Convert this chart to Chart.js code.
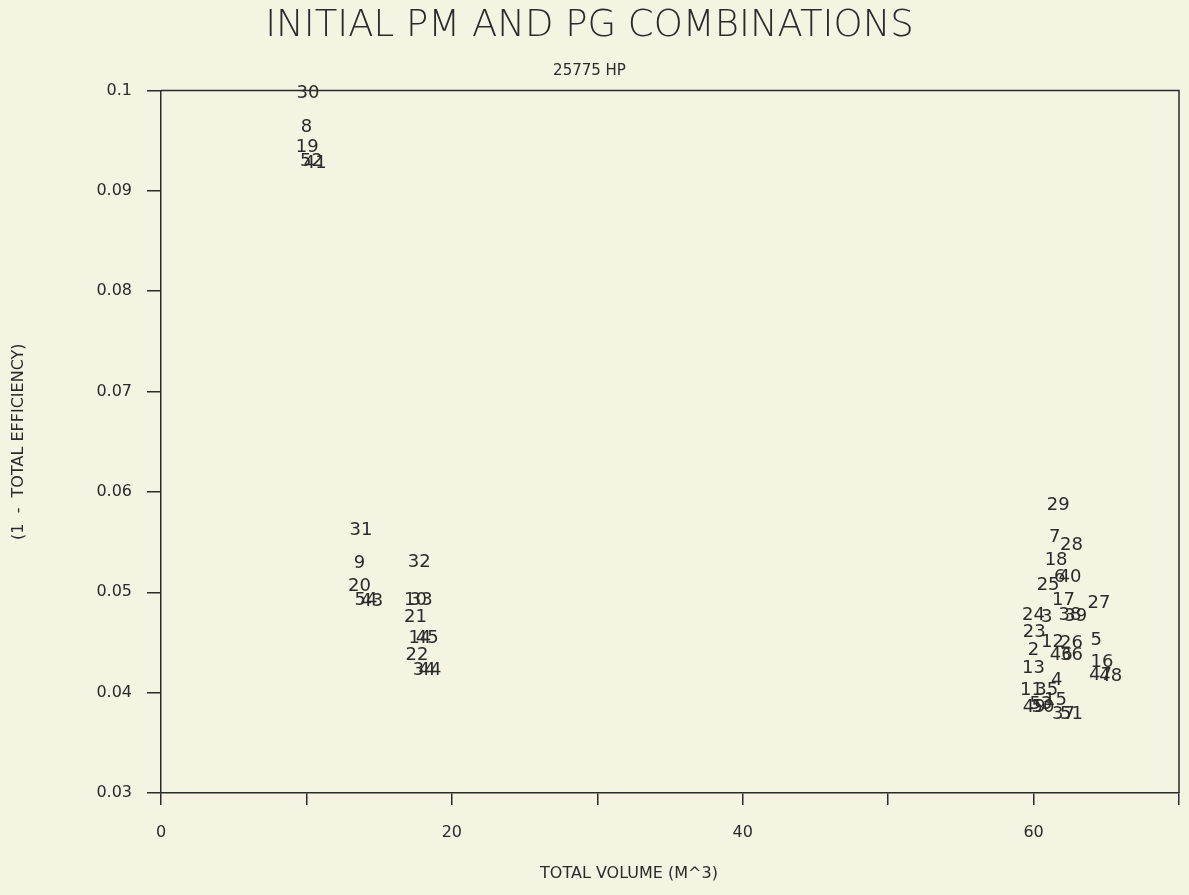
<!DOCTYPE html>
<html>
<head>
<meta charset="utf-8">
<title>Initial PM and PG combinations</title>
<script src="https://cdn.jsdelivr.net/npm/chart.js@4.4.1/dist/chart.umd.min.js"></script>
<style>
  html, body { margin: 0; padding: 0; background: #f5f3e1; overflow: hidden; }
  #chart { display: block; }
</style>
</head>
<body>
<canvas id="chart" width="1189" height="895"></canvas>
<script>
// each combination is plotted as its number
const POINT_LABELS = [
  '30', '8', '19', '52', '41',
  '31', '9', '20', '54', '43',
  '32', '10', '33', '21', '14', '45', '22', '34', '44',
  '29', '7', '28', '18', '6', '40', '25', '17', '27',
  '24', '3', '38', '39', '23', '12', '26', '5', '2',
  '46', '36', '16', '13', '47', '48', '4', '11', '35',
  '15', '49', '50', '53', '37', '51',
];
const VOLUME = [
  10.1, 10.0, 10.05, 10.35, 10.6,
  13.75, 13.65, 13.65, 14.1, 14.5,
  17.75, 17.5, 17.9, 17.5, 17.8, 18.3, 17.6, 18.1, 18.5,
  61.7, 61.45, 62.6, 61.55, 61.8, 62.5, 61.0, 62.05, 64.5,
  60.0, 60.9, 62.5, 62.9, 60.05, 61.3, 62.6, 64.3, 60.0,
  61.9, 62.6, 64.7, 60.0, 64.6, 65.3, 61.6, 59.85, 60.9,
  61.5, 60.05, 60.65, 60.5, 62.05, 62.6,
];
const LOSS = [
  0.0997, 0.0963, 0.0943, 0.0929, 0.0927,
  0.0562, 0.0529, 0.0506, 0.0492, 0.0491,
  0.0530, 0.0492, 0.0492, 0.0475, 0.0454, 0.0454, 0.0437, 0.0422, 0.0422,
  0.0587, 0.0555, 0.0547, 0.0532, 0.0515, 0.0515, 0.0507, 0.0492, 0.0489,
  0.0477, 0.0475, 0.0477, 0.0476, 0.0460, 0.0450, 0.0449, 0.0452, 0.0442,
  0.0437, 0.0437, 0.0430, 0.0424, 0.0417, 0.0416, 0.0412, 0.0402, 0.0402,
  0.0392, 0.0385, 0.0385, 0.0388, 0.0378, 0.0378,
];

const X_TICK_LABELS = ['0', '', '20', '', '40', '', '60', ''];
const Y_TICK_LABELS = ['0.03', '0.04', '0.05', '0.06', '0.07', '0.08', '0.09', '0.1'];

const INK = '#2b2b2b';
const SMALL_FONT = { family: '"DejaVu Sans", sans-serif', size: 16 };

// draws the combination numbers at each point position
const numberLabels = {
  id: 'numberLabels',
  afterDatasetsDraw(chart) {
    const { ctx } = chart;
    const meta = chart.getDatasetMeta(0);
    ctx.save();
    ctx.font = '18px "DejaVu Sans", sans-serif';
    ctx.fillStyle = INK;
    ctx.textAlign = 'center';
    ctx.textBaseline = 'middle';
    meta.data.forEach((pt, i) => {
      ctx.fillText(POINT_LABELS[i], pt.x, pt.y);
    });
    ctx.restore();
  },
};

// top and right edges of the plot box, plus the x axis caption
const frame = {
  id: 'frame',
  afterDraw(chart) {
    const { ctx, chartArea: a } = chart;
    ctx.save();
    ctx.strokeStyle = INK;
    ctx.lineWidth = 1.5;
    ctx.beginPath();
    ctx.moveTo(a.left, a.top);
    ctx.lineTo(a.right, a.top);
    ctx.lineTo(a.right, a.bottom);
    ctx.stroke();

    ctx.font = '16px "DejaVu Sans", sans-serif';
    ctx.fillStyle = INK;
    ctx.textAlign = 'center';
    ctx.textBaseline = 'middle';
    ctx.fillText('TOTAL VOLUME (M^3)', (a.left + a.right) / 2 - 41, 874);
    ctx.restore();
  },
};

new Chart(document.getElementById('chart'), {
  type: 'scatter',
  data: {
    datasets: [{
      data: VOLUME.map((v, i) => ({ x: v, y: LOSS[i] })),
      pointRadius: 0,
      pointHoverRadius: 0,
      showLine: false,
    }],
  },
  options: {
    responsive: false,
    animation: false,
    events: [],
    layout: { padding: { left: 0, right: 10, top: 0, bottom: 0 } },
    plugins: {
      legend: { display: false },
      tooltip: { enabled: false },
      title: {
        display: true,
        text: 'INITIAL PM AND PG COMBINATIONS',
        color: INK,
        font: { family: '"DejaVu Sans", sans-serif', size: 37, weight: 300 },
        padding: { top: 4, bottom: 4 },
      },
      subtitle: {
        display: true,
        text: '25775 HP',
        color: INK,
        font: { family: '"DejaVu Sans", sans-serif', size: 15 },
        padding: { top: 10, bottom: 10 },
      },
    },
    scales: {
      x: {
        type: 'linear',
        min: 0,
        max: 70,
        grid: { drawOnChartArea: false, tickLength: 12, color: INK, lineWidth: 1.5 },
        border: { color: INK, width: 1.5 },
        ticks: {
          stepSize: 10,
          autoSkip: false,
          maxRotation: 0,
          padding: 18,
          color: INK,
          font: SMALL_FONT,
          callback: (v) => X_TICK_LABELS[Math.round(v / 10)] ?? '',
        },
        afterFit: (scale) => {
          scale.height = 102;
          scale.paddingRight = 0; // last tick has no label
        },
      },
      y: {
        min: 0.03,
        max: 0.1,
        grid: { drawOnChartArea: false, tickLength: 14, color: INK, lineWidth: 1.5 },
        border: { color: INK, width: 1.5 },
        ticks: {
          stepSize: 0.01,
          padding: 15,
          color: INK,
          font: SMALL_FONT,
          callback: (v) => Y_TICK_LABELS[Math.round(v * 100) - 3] ?? '',
        },
        title: {
          display: true,
          text: '(1  -  TOTAL EFFICIENCY)',
          color: INK,
          font: { family: '"DejaVu Sans", sans-serif', size: 16 },
          padding: { top: 9, bottom: 0 },
        },
        afterFit: (scale) => { scale.width = 161; },
      },
    },
  },
  plugins: [numberLabels, frame],
});
</script>
</body>
</html>
